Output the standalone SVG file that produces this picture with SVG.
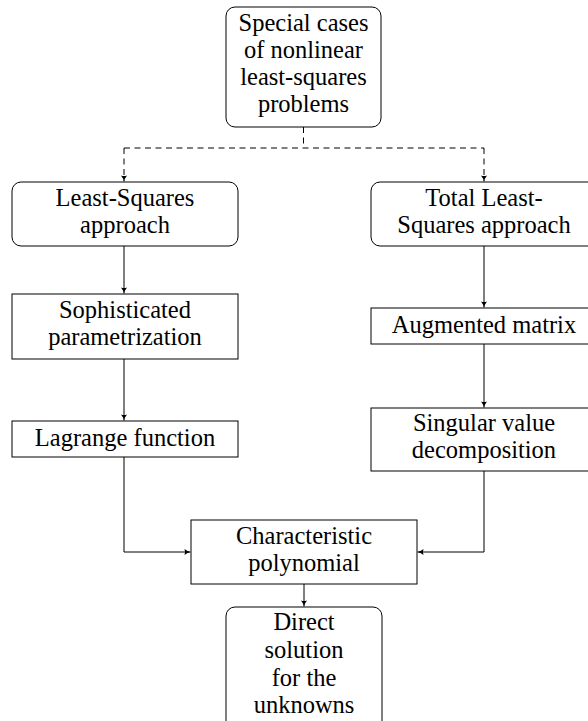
<svg xmlns="http://www.w3.org/2000/svg" width="588" height="721" viewBox="0 0 588 721">
<defs>
<marker id="ah" markerWidth="8" markerHeight="8" refX="7" refY="4" orient="auto" markerUnits="userSpaceOnUse">
<path d="M1,1 Q4,3.4 7,4 Q4,4.6 1,7 Q2.2,4 1,1 Z" fill="#000"/>
</marker>
</defs>
<style>
.box{fill:#fff;stroke:#000;stroke-width:1}
.c{fill:none;stroke:#000;stroke-width:1}
.d{stroke-dasharray:6,4.5}
</style>
<rect width="588" height="721" fill="#fff"/>
<g id="connectors">
<path class="c d" d="M303.5,127 V148 M124,148 H484"/>
<path class="c d" d="M124,148 V181.5" marker-end="url(#ah)"/>
<path class="c d" d="M484,148 V181.5" marker-end="url(#ah)"/>
<path class="c" d="M124,246 V293.5" marker-end="url(#ah)"/>
<path class="c" d="M124,359 V420.5" marker-end="url(#ah)"/>
<path class="c" d="M124,457 V552 H190.5" marker-end="url(#ah)"/>
<path class="c" d="M484,246 V307.5" marker-end="url(#ah)"/>
<path class="c" d="M484,344 V407.5" marker-end="url(#ah)"/>
<path class="c" d="M484,471 V552 H417.5" marker-end="url(#ah)"/>
<path class="c" d="M304,584 V606.5" marker-end="url(#ah)"/>
</g>
<g font-family="Liberation Serif" font-size="24.5" text-anchor="middle" fill="#000">
<g id="special-cases">
<rect class="box" x="226" y="7" width="155" height="120" rx="9"/>
<text x="303.5" y="31">Special cases</text>
<text x="303.5" y="58">of nonlinear</text>
<text x="303.5" y="85">least-squares</text>
<text x="303.5" y="112">problems</text>
</g>
<g id="least-squares">
<rect class="box" x="12" y="182" width="226" height="64" rx="9"/>
<text x="125" y="206">Least-Squares</text>
<text x="125" y="233">approach</text>
</g>
<g id="total-least-squares">
<rect class="box" x="371" y="182" width="226" height="64" rx="9"/>
<text x="484" y="206">Total Least-</text>
<text x="484" y="233">Squares approach</text>
</g>
<g id="sophisticated">
<rect class="box" x="12" y="294" width="226" height="65"/>
<text x="125" y="318">Sophisticated</text>
<text x="125" y="345">parametrization</text>
</g>
<g id="lagrange">
<rect class="box" x="12" y="421" width="226" height="36"/>
<text x="125" y="446">Lagrange function</text>
</g>
<g id="augmented">
<rect class="box" x="371" y="308" width="226" height="36"/>
<text x="484" y="333">Augmented matrix</text>
</g>
<g id="svd">
<rect class="box" x="371" y="408" width="226" height="63"/>
<text x="484" y="431">Singular value</text>
<text x="484" y="458">decomposition</text>
</g>
<g id="characteristic">
<rect class="box" x="191" y="520" width="226" height="64"/>
<text x="304" y="544">Characteristic</text>
<text x="304" y="571">polynomial</text>
</g>
<g id="direct-solution">
<rect class="box" x="226" y="607" width="156" height="130" rx="9"/>
<text x="304" y="630">Direct</text>
<text x="304" y="658">solution</text>
<text x="304" y="686">for the</text>
<text x="304" y="713">unknowns</text>
</g>
</g>
</svg>
